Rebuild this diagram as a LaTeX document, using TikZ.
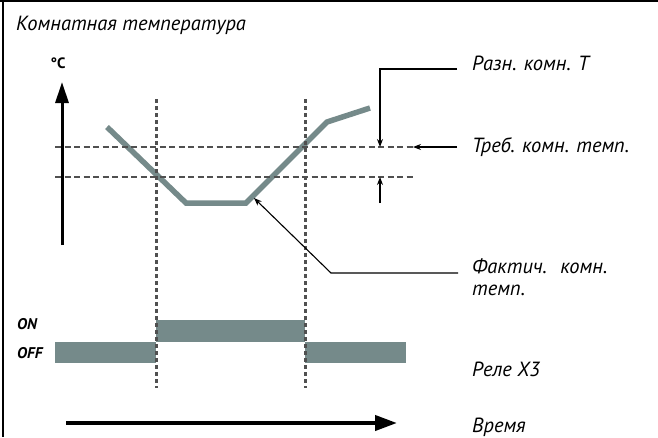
\documentclass[tikz,border=0pt]{standalone}
\usepackage{fontspec}
\setmainfont{PT Sans}
\usetikzlibrary{arrows.meta}
\definecolor{curvegray}{RGB}{117,138,138}
\definecolor{dotgray}{RGB}{80,80,80}
\begin{document}
\begin{tikzpicture}[x=1pt,y=-1pt,
  lbl/.style={inner sep=0pt,anchor=base west,font=\fontsize{20.5}{22}\selectfont\itshape},
  small/.style={inner sep=0pt,anchor=west,font=\fontsize{15.5}{17}\selectfont\bfseries\itshape},
  vdot/.style={dotgray,line width=3pt,dash pattern=on 4pt off 3pt},
  hdash/.style={dotgray,line width=2.8pt,dash pattern=on 6pt off 3.5pt},
  thin/.style={black,line width=1.1pt},
  tip/.style={-{Stealth[length=8pt,width=6pt]}},
  relay/.style={fill=curvegray,draw=none}
]
\useasboundingbox (0,0) rectangle (658,437);
% frame
\draw[line width=2pt] (0,1) -- (658,1);
\draw[line width=2pt] (3,0) -- (3,437);
% title
\node[lbl] (title) at (16,30) {Комнатная температура};
% axis
\node[inner sep=0pt,font=\fontsize{15}{16}\selectfont\bfseries] (degc) at (58,63) {°C};
\coordinate (ybot) at (62,245);
\coordinate (ytop) at (62,82);
\draw[line width=3pt,-{Stealth[length=21pt,width=13pt,inset=0pt]}] (ybot) -- (ytop);
% relay bars
\node[relay,minimum width=149pt,minimum height=22pt,inner sep=0pt,anchor=north west] (on) at (156,320) {};
\node[relay,minimum width=101pt,minimum height=21pt,inner sep=0pt,anchor=north west] (offa) at (55,342) {};
\node[relay,minimum width=101pt,minimum height=21pt,inner sep=0pt,anchor=north west] (offb) at (305,342) {};
% curve
\coordinate (c1) at (107,127);
\coordinate (c2) at (186,203);
\coordinate (c3) at (246,203);
\coordinate (c4) at (327,122);
\coordinate (c5) at (370,108);
\draw[curvegray,line width=5.5pt,line join=miter] (c1) -- (c2) -- (c3) -- (c4) -- (c5);
% dashed horizontals
\coordinate (h1a) at (55,147); \coordinate (h1b) at (416,147);
\coordinate (h2a) at (55,177); \coordinate (h2b) at (416,177);
\draw[hdash] (h1a) -- (h1b);
\draw[hdash] (h2a) -- (h2b);
% dotted verticals
\coordinate (v1a) at (156,99); \coordinate (v1b) at (156,388);
\coordinate (v2a) at (305,99); \coordinate (v2b) at (305,388);
\draw[vdot] (v1a) -- (v1b);
\draw[vdot] (v2a) -- (v2b);
% labels right
\node[lbl] (razn) at (472,70) {Разн. комн. Т};
\node[lbl] (treb) at (472,152) {Треб. комн. темп.};
\node[lbl] (fakt) at (472,273) {Фактич.\hspace{0.3em} комн.};
\node[lbl] (fakt2) at (472,295) {темп.};
\node[lbl] (rele) at (472,376) {Реле Х3};
\node[lbl] (vrem) at (472,432) {Время};
% Razn connector
\coordinate (r1) at (457,69);
\coordinate (r2) at (380,69);
\coordinate (r3) at (380,147);
\coordinate (r4) at (380,203);
\coordinate (r5) at (380,177);
\draw[thin,tip] (r1) -- (r2) -- (r3);
\draw[thin,tip] (r4) -- (r5);
% Treb connector
\coordinate (t1) at (457,147);
\coordinate (t2) at (413,147);
\draw[thin,tip] (t1) -- (t2);
% Fakt connector
\coordinate (f1) at (458,273);
\coordinate (f2) at (331,273);
\coordinate (f3) at (254,198);
\draw[thin,tip] (f1) -- (f2) -- (f3);
% ON / OFF labels
\node[small] (onl) at (17,324) {ON};
\node[small] (offl) at (17,353) {OFF};
% time arrow
\coordinate (ta) at (66,423);
\coordinate (tb) at (397,423);
\draw[line width=4pt,-{Stealth[length=22pt,width=15pt,inset=0pt]}] (ta) -- (tb);
\end{tikzpicture}
\end{document}
